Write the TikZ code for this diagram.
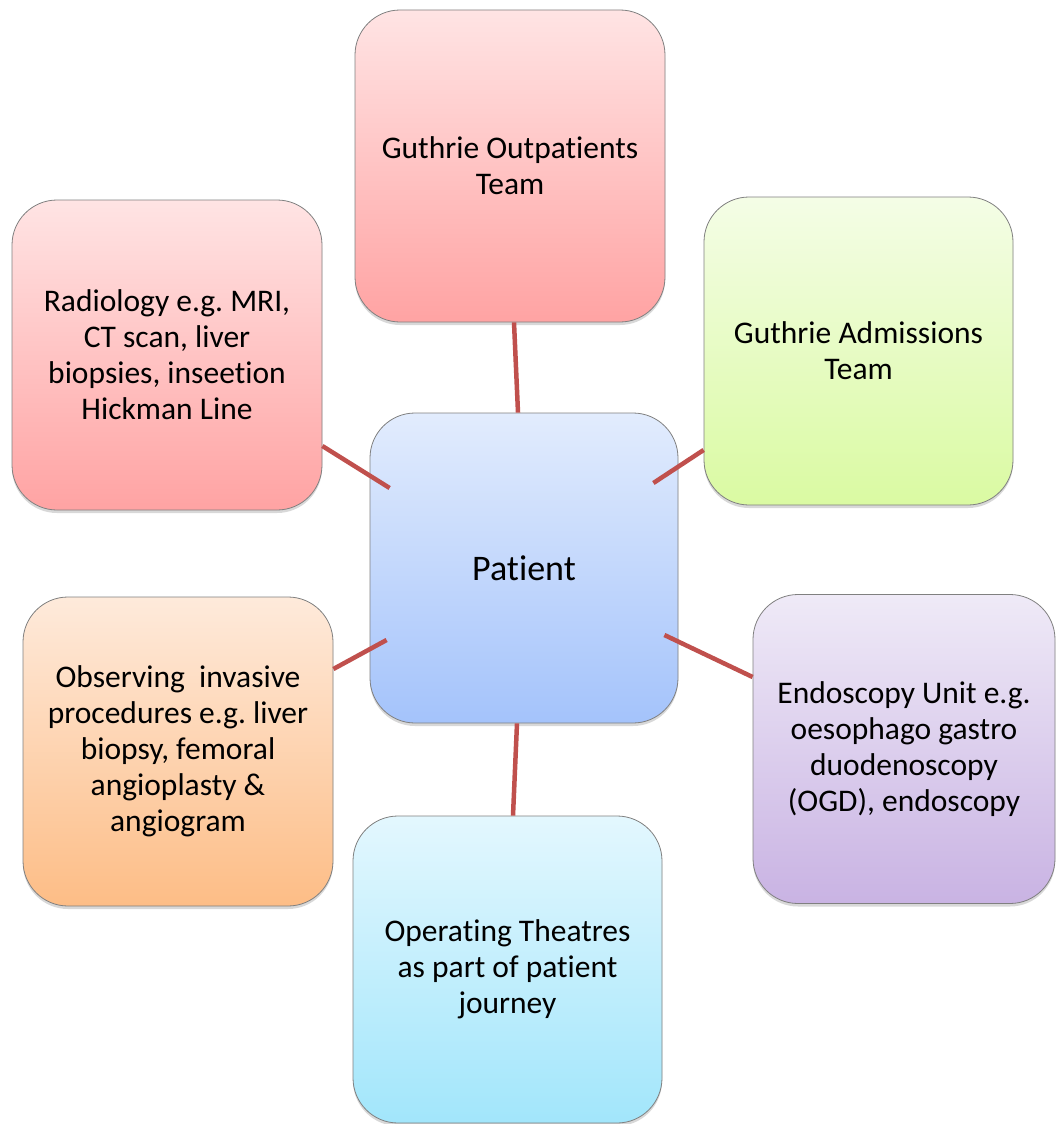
\documentclass[tikz,border=0pt]{standalone}
\usepackage{fontspec}
\setmainfont{Carlito}[Ligatures=NoCommon]
\frenchspacing
\usetikzlibrary{shadows}
\definecolor{linkred}{HTML}{C0504D}
\definecolor{pinkT}{HTML}{FFE4E4}
\definecolor{pinkB}{HTML}{FFA3A3}
\definecolor{greenT}{HTML}{F4FDE6}
\definecolor{greenB}{HTML}{DAFAA2}
\definecolor{blueT}{HTML}{E2ECFD}
\definecolor{blueB}{HTML}{A4C3FB}
\definecolor{orangeT}{HTML}{FEEADB}
\definecolor{orangeB}{HTML}{FDBD86}
\definecolor{purpleT}{HTML}{EFEAF7}
\definecolor{purpleB}{HTML}{C9B3E3}
\definecolor{cyanT}{HTML}{E3F7FE}
\definecolor{cyanB}{HTML}{A2E6FB}
\begin{document}
\begin{tikzpicture}[x=1pt,y=-1pt,
  box/.style={draw=black!50, line width=0.8pt, rounded corners=45pt,
    minimum width=310pt, minimum height=310pt, inner sep=0pt, align=center,
    font=\fontsize{31.5}{36}\selectfont,
    drop shadow={opacity=0.3, shadow xshift=0pt, shadow yshift=-3pt}},
  link/.style={draw=linkred, line width=4.5pt}]
\useasboundingbox[fill=white] (0,0) rectangle (1056,1124);

\node[box, top color=pinkT, bottom color=pinkB, minimum height=312pt] (top) at (510,166)
  {Guthrie Outpatients\\Team};
\node[box, top color=pinkT, bottom color=pinkB] (rad) at (167,355)
  {Radiology e.g. MRI,\\CT scan, liver\\biopsies, inseetion\\Hickman Line};
\node[box, top color=greenT, bottom color=greenB, minimum width=309pt, minimum height=308pt] (adm) at (858.5,351)
  {Guthrie Admissions\\Team};
\node[box, top color=blueT, bottom color=blueB, minimum width=308pt, font=\fontsize{36}{44}\selectfont] (pat) at (524,568)
  {Patient};
\node[box, top color=orangeT, bottom color=orangeB, minimum height=309pt] (obs) at (178,751.5)
  {Observing~ invasive\\procedures e.g. liver\\biopsy, femoral\\angioplasty \&\\angiogram};
\node[box, top color=purpleT, bottom color=purpleB, minimum width=302pt, minimum height=309pt] (endo) at (904,749)
  {Endoscopy Unit e.g.\\oesophago gastro\\duodenoscopy\\(OGD), endoscopy};
\node[box, top color=cyanT, bottom color=cyanB, minimum width=309pt, minimum height=307pt] (op) at (507.5,969.5)
  {Operating Theatres\\as part of patient\\journey};

\draw[link] ([xshift=4pt]top.south) -- ([xshift=-6pt]pat.north);
\draw[link] ([yshift=-91pt]rad.east) -- ([xshift=20pt,yshift=80pt]pat.west);
\draw[link] ([yshift=-99pt]adm.west) -- ([xshift=-25pt,yshift=85pt]pat.east);
\draw[link] ([yshift=82.5pt]obs.east) -- ([xshift=17pt,yshift=-72pt]pat.west);
\draw[link] ([yshift=72pt]endo.west) -- ([xshift=-14pt,yshift=-67pt]pat.east);
\draw[link] ([xshift=5.5pt]op.north) -- ([xshift=-7pt]pat.south);
\end{tikzpicture}
\end{document}
